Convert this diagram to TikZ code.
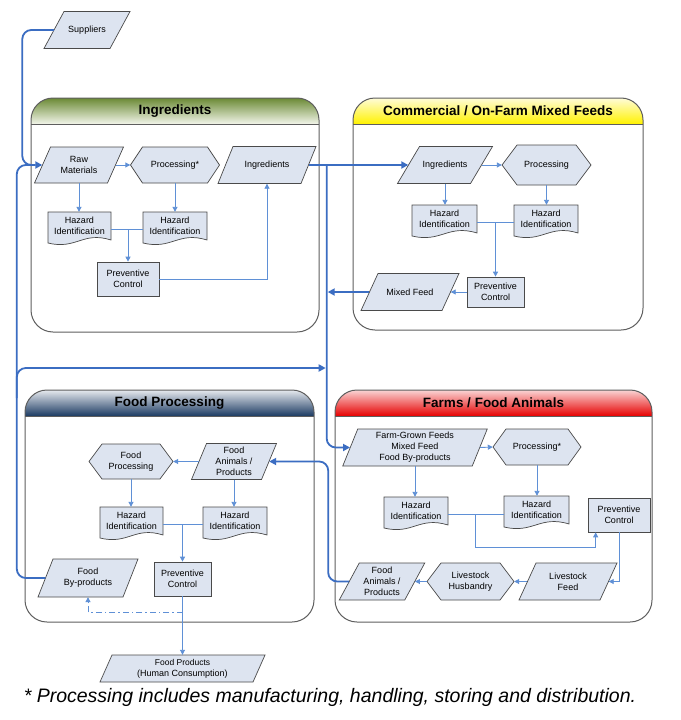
\documentclass[tikz,border=0pt]{standalone}
\usepackage{fontspec}
\setmainfont{Liberation Sans}
\usetikzlibrary{calc,arrows.meta}
\definecolor{nodefill}{HTML}{DDE4F0}
\definecolor{nodeline}{HTML}{4A4A4A}
\definecolor{panelline}{HTML}{5E5E5E}
\definecolor{bigblue}{HTML}{3B6DC2}
\definecolor{thinblue}{HTML}{5F90D6}
\definecolor{ingTop}{HTML}{6B8A35}
\definecolor{ingBot}{HTML}{F2F5EA}
\definecolor{comTop}{HTML}{FFFCD8}
\definecolor{comBot}{HTML}{FFF200}
\definecolor{fpTop}{HTML}{E6E9EE}
\definecolor{fpBot}{HTML}{1B3A62}
\definecolor{faTop}{HTML}{FAD4D4}
\definecolor{faBot}{HTML}{E60000}
\tikzset{
 shp/.style={fill=nodefill, draw=nodeline, line width=0.7pt},
 txt/.style={inner sep=0pt, align=center, font=\fontsize{9}{11}\selectfont},
 pline/.style={draw=panelline, line width=1pt},
 ptitle/.style={font=\bfseries\fontsize{13.5}{15}\selectfont, inner sep=0pt},
 bigconn/.style={draw=bigblue, line width=1.8pt, rounded corners=9, -{Triangle[length=7pt,width=7pt]}},
 bigline/.style={draw=bigblue, line width=1.8pt, rounded corners=9},
 thinconn/.style={draw=thinblue, line width=0.9pt, -{Triangle[length=5pt,width=5pt]}},
 thinline/.style={draw=thinblue, line width=0.9pt},
}
% parallelogram: [slant]{name}{center}{mid width}{height}{text}
\newcommand\parnode[6][16]{%
 \path[shp] ($(#3)+({-(#4)/2+(#1)/2},{-(#5)/2})$) -- ($(#3)+({(#4)/2+(#1)/2},{-(#5)/2})$) -- ($(#3)+({(#4)/2-(#1)/2},{(#5)/2})$) -- ($(#3)+({-(#4)/2-(#1)/2},{(#5)/2})$) -- cycle;
 \node[txt, minimum width=#4, minimum height=#5] (#2) at (#3) {#6};}
% hexagon: [inset]{name}{center}{width}{height}{text}
\newcommand\hexnode[6][13]{%
 \path[shp] ($(#3)+({-(#4)/2},0)$) -- ($(#3)+({-(#4)/2+(#1)},{-(#5)/2})$) -- ($(#3)+({(#4)/2-(#1)},{-(#5)/2})$) -- ($(#3)+({(#4)/2},0)$) -- ($(#3)+({(#4)/2-(#1)},{(#5)/2})$) -- ($(#3)+({-(#4)/2+(#1)},{(#5)/2})$) -- cycle;
 \node[txt, minimum width=#4, minimum height=#5] (#2) at (#3) {#6};}
% document: {name}{x}{top}{width}{text}
\newcommand\docnode[5]{%
 \path[shp] ({#2-(#4)/2},{#3}) -- ({#2+(#4)/2},{#3}) -- ({#2+(#4)/2},{#3+28}) .. controls ({#2+(#4)/2-0.45*(#4)},{#3+19}) and ({#2-(#4)/2+0.45*(#4)},{#3+38}) .. ({#2-(#4)/2},{#3+31}) -- cycle;
 \node[txt, minimum width=#4, minimum height=28] (#1) at ({#2},{#3+14}) {#5};}
% panel: {x1}{y1}{x2}{y2}{top colour}{bottom colour}{title}{name}
\newcommand\mypanel[8]{%
 \begin{scope}
 \clip[rounded corners=22] (#1,#2) rectangle (#3,#4);
 \shade[top color=#5, bottom color=#6] (#1,#2) rectangle (#3,{#2+26});
 \end{scope}
 \draw[pline] (#1,{#2+26}) -- (#3,{#2+26});
 \draw[pline, rounded corners=22] (#1,#2) rectangle (#3,#4);
 \node[ptitle] (#8) at ({(#1+#3)/2},{#2+13}) {#7};}

\begin{document}
\begin{tikzpicture}[x=1pt,y=-1pt]
\useasboundingbox (0,0) rectangle (680,720);
\fill[white] (0,0) rectangle (680,720);

\mypanel{31}{98}{319}{332}{ingTop}{ingBot}{Ingredients}{tIng}
\mypanel{353}{98}{643}{330}{comTop}{comBot}{Commercial / On-Farm Mixed Feeds}{tCom}
\mypanel{25}{390}{314}{622}{fpTop}{fpBot}{Food Processing}{tFP}
\mypanel{335}{390}{652}{622}{faTop}{faBot}{Farms / Food Animals}{tFA}

% Ingredients panel
\parnode[20]{sup}{87,30}{66}{37}{Suppliers}
\parnode[16]{raw}{79,165}{73}{36}{Raw\\Materials}
\hexnode[12]{procA}{175,165}{89}{36}{Processing*}
\parnode[15]{ingA}{267,165}{83}{37}{Ingredients}
\docnode{hiA}{79.5}{212}{63}{Hazard\\Identification}
\docnode{hiB}{175}{212}{64}{Hazard\\Identification}
\node[shp,txt,minimum width=62,minimum height=34] (pcA) at (128,279) {Preventive\\Control};

% Commercial panel
\parnode[22]{ingB}{445,165}{73}{37}{Ingredients}
\hexnode[15]{procB}{546.5,165}{89}{40}{Processing}
\docnode{hiC}{444.5}{205}{65}{Hazard\\Identification}
\docnode{hiD}{546}{205}{64}{Hazard\\Identification}
\node[shp,txt,minimum width=57,minimum height=30] (pcB) at (495.5,292) {Preventive\\Control};
\parnode[17]{mix}{410,292}{81}{37}{Mixed Feed}

% Food processing panel
\hexnode[13]{fproc}{131,461.5}{84}{35}{Food\\Processing}
\parnode[15]{fapA}{234,461.5}{70}{36}{Food\\Animals /\\Products}
\docnode{hiE}{131.5}{507}{63}{Hazard\\Identification}
\docnode{hiF}{235}{507}{64}{Hazard\\Identification}
\node[shp,txt,minimum width=57,minimum height=34] (pcC) at (182.5,579) {Preventive\\Control};
\parnode[15]{byp}{88,578}{85}{38}{Food\\By-products}
\parnode[12]{fprod}{182.5,668.5}{153}{27}{\fontsize{8.5}{10.5}\selectfont Food Products\\(Human Consumption)}

% Farms panel
\parnode[15]{fgf}{415,447.5}{129.5}{37}{Farm-Grown Feeds\\Mixed Feed\\Food By-products}
\hexnode[13]{procC}{537,447}{88}{36}{Processing*}
\docnode{hiG}{416}{497}{64}{Hazard\\Identification}
\docnode{hiH}{536.5}{496}{65}{Hazard\\Identification}
\node[shp,txt,minimum width=62,minimum height=34] (pcD) at (619,515) {Preventive\\Control};
\parnode[17]{lf}{568,581.5}{81}{37}{Livestock\\Feed}
\hexnode[14]{lh}{470.5,581.5}{87}{37}{Livestock\\Husbandry}
\parnode[20]{fapB}{382,581.5}{65.5}{37}{Food\\Animals /\\Products}

% thin connectors: ingredients
\draw[thinconn] (raw.east) -- (procA.west);
\draw[thinconn] (raw.south) -- (raw.south |- hiA.north);
\draw[thinconn] (procA.south) -- (procA.south |- hiB.north);
\coordinate (jA) at ($(hiA.east)+(0,3)$);
\draw[thinline] (jA) -- (jA -| hiB.west);
\draw[thinconn] (jA -| pcA.north) -- (pcA.north);
\draw[thinconn] (pcA.east) -| (ingA.south);

% commercial
\draw[thinconn] (ingB.east) -- (procB.west);
\draw[thinconn] (ingB.south) -- (ingB.south |- hiC.north);
\draw[thinconn] (procB.south) -- (procB.south |- hiD.north);
\coordinate (jB) at ($(hiC.east)+(0,3)$);
\draw[thinline] (jB) -- (jB -| hiD.west);
\draw[thinconn] (jB -| pcB.north) -- (pcB.north);
\draw[thinconn] (pcB.west) -- (mix.east);

% food processing
\draw[thinconn] (fapA.west) -- (fproc.east);
\draw[thinconn] (fproc.south) -- (fproc.south |- hiE.north);
\draw[thinconn] (fapA.south) -- (fapA.south |- hiF.north);
\coordinate (jC) at ($(hiE.east)+(0,3)$);
\draw[thinline] (jC) -- (jC -| hiF.west);
\draw[thinconn] (jC -| pcC.north) -- (pcC.north);
\draw[thinconn] (pcC.south) -- (fprod.north);
\coordinate (dd) at ($(pcC.south)+(0,16)$);
\draw[thinconn, dash pattern=on 6pt off 3pt on 1.5pt off 3pt] (dd) -| (byp.south);

% farms
\draw[thinconn] (fgf.east) -- (procC.west);
\draw[thinconn] (fgf.south) -- (fgf.south |- hiG.north);
\draw[thinconn] (procC.south) -- (procC.south |- hiH.north);
\coordinate (jD) at ($(hiG.east)+(0,3)$);
\draw[thinline] (jD) -- (jD -| hiH.west);
\coordinate (jD2) at ($(jD)+(27,0)$);
\coordinate (pcDin) at ($(pcD.south west)+(8,0)$);
\draw[thinconn] (jD2) |- ($(pcDin)+(0,15)$) -- (pcDin);
\draw[thinconn] (pcD.south) |- (lf.east);
\draw[thinconn] (lf.west) -- (lh.east);
\draw[thinconn] (lh.west) -- (fapB.east);

% thick connectors
\coordinate (Lx) at ($(raw.west)+(-25.5,0)$);
\coordinate (bus) at ($(ingA.east)+(18,0)$);
\coordinate (bus2) at ($(bus)+(1.5,0)$);
\coordinate (hb) at ($(Lx)+(0,203)$);
\draw[bigconn] (sup.west) -| ($(raw.west)+(-20,0)$) -- (raw.west);
\draw[bigline] (byp.west) -| (Lx) -- ($(raw.west)+(-10,0)$);
\draw[bigconn, shorten >=1pt] ($(hb)+(0,30)$) -- (hb) -- (hb -| bus);
\draw[bigconn] (ingA.east) -- (ingB.west);
\draw[bigconn] (bus) |- (fgf.west);
\draw[bigconn, shorten >=1pt] (mix.west) -- (bus |- mix.west);
\draw[bigconn] (fapB.west) -| (bus2 |- fapA.east) -- (fapA.east);

% footnote
\node[font=\itshape\fontsize{19.5}{22}\selectfont, inner sep=0pt] (fn) at (330,697) {* Processing includes manufacturing, handling, storing and distribution.};
\end{tikzpicture}
\end{document}
